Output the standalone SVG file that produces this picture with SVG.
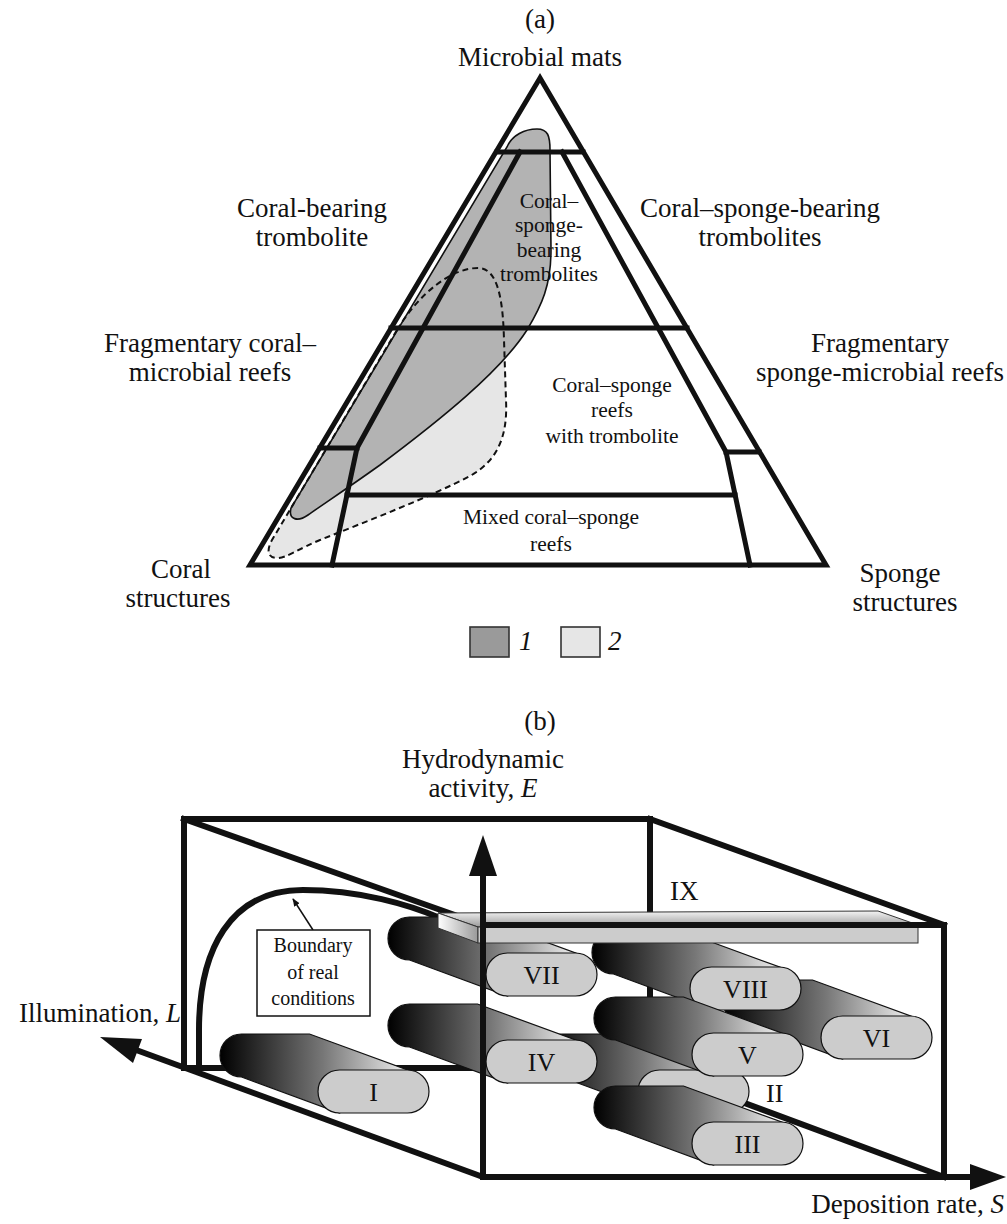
<svg xmlns="http://www.w3.org/2000/svg" width="1007" height="1224" viewBox="0 0 1007 1224">
<defs>
<style>
text{font-family:"Liberation Serif","Times New Roman",serif;fill:#111}
.big{font-size:27px}
.mid{font-size:21.5px}
.small{font-size:20px}
.num{font-size:26px}
.it{font-style:italic}
.edge{fill:none;stroke:#111;stroke-width:5;stroke-linejoin:miter;stroke-linecap:square}
.box{fill:none;stroke:#111;stroke-width:6;stroke-linecap:square;stroke-linejoin:miter}
.body{stroke:#111;stroke-width:1.2;fill:url(#cylgrad)}
.cap{fill:#cccccc;stroke:#111;stroke-width:1.2}
</style>
<linearGradient id="cylgrad" x1="0" y1="0" x2="1" y2="0">
<stop offset="0" stop-color="#000"/>
<stop offset="0.55" stop-color="#777"/>
<stop offset="1" stop-color="#eeeeee"/>
</linearGradient>
<linearGradient id="slabtop" x1="0" y1="0" x2="0" y2="1">
<stop offset="0" stop-color="#f4f4f4"/>
<stop offset="1" stop-color="#9a9a9a"/>
</linearGradient>
<linearGradient id="slabend" x1="0" y1="0" x2="1" y2="0">
<stop offset="0" stop-color="#fff"/>
<stop offset="1" stop-color="#999"/>
</linearGradient>
<marker id="smallarrow" viewBox="0 0 10 10" refX="9" refY="5" markerWidth="8" markerHeight="8" orient="auto" markerUnits="userSpaceOnUse">
<path d="M0,1 L10,5 L0,9 Z" fill="#111"/>
</marker>
</defs>

<!-- ===== Part (a) ===== -->
<g id="part-a">
<text class="big" x="540" y="28" text-anchor="middle">(a)</text>

<g id="region-shapes">
<path id="field2-fill" d="M397,330 C420,292 452,268 478,268 C498,268 503,300 504,340 L506,400 C508,440 495,462 470,476 C430,497 370,520 320,540 C300,548 287,558 277,558 C268,558 266,551 272,540 Z" fill="#e6e6e6" stroke="none"/>
<path id="field1" d="M507,147 C512,135 525,129 537,129 C548,129 550,136 550,150 L551,250 C551,285 542,305 527,330 C500,372 440,420 380,465 C345,490 322,505 308,515 C298,522 288,520 291,508 Z" fill="#b3b3b3" stroke="#111" stroke-width="1.6"/>
<path id="field2-outline" d="M397,330 C420,292 452,268 478,268 C498,268 503,300 504,340 L506,400 C508,440 495,462 470,476 C430,497 370,520 320,540 C300,548 287,558 277,558 C268,558 266,551 272,540 Z" fill="none" stroke="#111" stroke-width="2" stroke-dasharray="6 4"/>
</g>

<g id="triangle">
<path class="edge" d="M540,78 L250,565 L826,565 Z"/>
<path class="edge" d="M497,152 L583,152"/>
<path class="edge" d="M520,152 L357,448 L332,565"/>
<path class="edge" d="M562,152 L726,452 L750,565"/>
<path class="edge" d="M391,328 L687,328"/>
<path class="edge" d="M320,448 L357,448"/>
<path class="edge" d="M726,452 L759,452"/>
<path class="edge" d="M347,495 L735,495"/>
</g>

<g id="label-microbial-mats"><text class="big" x="540" y="66" text-anchor="middle">Microbial mats</text></g>
<g id="label-coral-bearing"><text class="big" text-anchor="middle"><tspan x="312" y="217">Coral-bearing</tspan><tspan x="312" y="246">trombolite</tspan></text></g>
<g id="label-coral-sponge-bearing"><text class="big" text-anchor="middle"><tspan x="760" y="217">Coral–sponge-bearing</tspan><tspan x="760" y="246">trombolites</tspan></text></g>
<g id="label-frag-coral"><text class="big" text-anchor="middle"><tspan x="210" y="352">Fragmentary coral–</tspan><tspan x="210" y="381">microbial reefs</tspan></text></g>
<g id="label-frag-sponge"><text class="big" text-anchor="middle"><tspan x="880" y="352">Fragmentary</tspan><tspan x="880" y="381">sponge-microbial reefs</tspan></text></g>
<g id="label-coral-structures"><text class="big" text-anchor="middle"><tspan x="181" y="578">Coral</tspan><tspan x="178" y="607">structures</tspan></text></g>
<g id="label-sponge-structures"><text class="big" text-anchor="middle"><tspan x="900" y="582">Sponge</tspan><tspan x="905" y="611">structures</tspan></text></g>
<g id="label-cs-bearing-inner"><text class="mid" text-anchor="middle"><tspan x="549" y="208">Coral–</tspan><tspan x="549" y="232">sponge-</tspan><tspan x="549" y="257">bearing</tspan><tspan x="549" y="281">trombolites</tspan></text></g>
<g id="label-cs-reefs"><text class="mid" text-anchor="middle"><tspan x="612" y="392">Coral–sponge</tspan><tspan x="612" y="417">reefs</tspan><tspan x="612" y="443">with trombolite</tspan></text></g>
<g id="label-mixed"><text class="mid" text-anchor="middle"><tspan x="551" y="524">Mixed coral–sponge</tspan><tspan x="551" y="551">reefs</tspan></text></g>

<g id="legend">
<rect x="470" y="627" width="39" height="30" fill="#9a9a9a" stroke="#333" stroke-width="1.6"/>
<text class="big it" x="519" y="650">1</text>
<rect x="561" y="627" width="39" height="30" fill="#e6e6e6" stroke="#333" stroke-width="1.6"/>
<text class="big it" x="608" y="650">2</text>
</g>
</g>

<!-- ===== Part (b) ===== -->
<g id="part-b">
<text class="big" x="540" y="730" text-anchor="middle">(b)</text>
<g id="label-E"><text class="big" text-anchor="middle"><tspan x="483" y="768">Hydrodynamic</tspan><tspan x="483" y="797">activity, <tspan class="it">E</tspan></tspan></text></g>
<g id="label-L"><text class="big" x="181" y="1022" text-anchor="end">Illumination, <tspan class="it">L</tspan></text></g>
<g id="label-S"><text class="big" x="1004" y="1213" text-anchor="end">Deposition rate, <tspan class="it">S</tspan></text></g>

<g id="connectors">
<path class="box" d="M184,819 L650,819 L650,1068"/>
<path class="box" d="M184,819 L184,1068 L650,1068"/>
<path class="box" d="M650,1068 L944,1177"/>
<path class="box" d="M184,819 L483,925"/>
<path class="box" d="M650,819 L944,925"/>
<path d="M199,1068 L199,1030 C199,950 230,890 303,890 C360,890 410,905 440,918" fill="none" stroke="#111" stroke-width="6"/>
<path d="M313,930 L293,899" fill="none" stroke="#111" stroke-width="1.5" marker-end="url(#smallarrow)"/>
<path d="M483,1177 L128,1047" fill="none" stroke="#111" stroke-width="6"/>
<path d="M100,1037 L142,1039 L133,1063 Z" fill="#111"/>
</g>

<g id="boundary-box">
<rect x="257" y="930" width="113" height="86" fill="#fff" stroke="#111" stroke-width="1.5"/>
<text class="small" text-anchor="middle"><tspan x="313" y="952">Boundary</tspan><tspan x="313" y="979">of real</tspan><tspan x="313" y="1005">conditions</tspan></text>
</g>

<g id="cyl-VII">
<path class="body" d="M409.5,917 L477.5,917 L575.5,953 L507.5,996 L409.5,960 A21.5,21.5 0 0 1 409.5,917 Z"/>
<rect class="cap" x="486" y="953" width="111" height="43" rx="21.5"/>
<text class="num" x="541.5" y="984" text-anchor="middle">VII</text>
</g>
<g id="cyl-VI">
<path class="body" d="M744.5,980 L812.5,980 L910.5,1016 L842.5,1059 L744.5,1023 A21.5,21.5 0 0 1 744.5,980 Z"/>
<rect class="cap" x="821" y="1016" width="111" height="43" rx="21.5"/>
<text class="num" x="876.5" y="1047" text-anchor="middle">VI</text>
</g>
<g id="cyl-VIII">
<path class="body" d="M613.5,931 L681.5,931 L779.5,967 L711.5,1010 L613.5,974 A21.5,21.5 0 0 1 613.5,931 Z"/>
<rect class="cap" x="690" y="967" width="111" height="43" rx="21.5"/>
<text class="num" x="745.5" y="998" text-anchor="middle">VIII</text>
</g>
<g id="cyl-II">
<path class="body" d="M561.5,1034 L629.5,1034 L727.5,1070 L659.5,1113 L561.5,1077 A21.5,21.5 0 0 1 561.5,1034 Z"/>
<rect class="cap" x="638" y="1070" width="111" height="43" rx="21.5"/>
<text class="num" x="766" y="1102">II</text>
</g>
<g id="cyl-V">
<path class="body" d="M615.5,997 L683.5,997 L781.5,1033 L713.5,1076 L615.5,1040 A21.5,21.5 0 0 1 615.5,997 Z"/>
<rect class="cap" x="692" y="1033" width="111" height="43" rx="21.5"/>
<text class="num" x="747.5" y="1064" text-anchor="middle">V</text>
</g>
<g id="cyl-IV">
<path class="body" d="M409.5,1004 L477.5,1004 L575.5,1040 L507.5,1083 L409.5,1047 A21.5,21.5 0 0 1 409.5,1004 Z"/>
<rect class="cap" x="486" y="1040" width="111" height="43" rx="21.5"/>
<text class="num" x="541.5" y="1071" text-anchor="middle">IV</text>
</g>
<g id="cyl-III">
<path class="body" d="M615.5,1086 L683.5,1086 L781.5,1122 L713.5,1165 L615.5,1129 A21.5,21.5 0 0 1 615.5,1086 Z"/>
<rect class="cap" x="692" y="1122" width="111" height="43" rx="21.5"/>
<text class="num" x="747.5" y="1153" text-anchor="middle">III</text>
</g>
<g id="cyl-I">
<path class="body" d="M241.5,1034 L309.5,1034 L407.5,1070 L339.5,1113 L241.5,1077 A21.5,21.5 0 0 1 241.5,1034 Z"/>
<rect class="cap" x="318" y="1070" width="111" height="43" rx="21.5"/>
<text class="num" x="373.5" y="1101" text-anchor="middle">I</text>
</g>

<g id="slab-IX">
<path d="M438,913 L878,911 L918,925 L478,927 Z" fill="url(#slabtop)" stroke="#333" stroke-width="1"/>
<path d="M438,913 L478,927 L478,943 L438,928 Z" fill="url(#slabend)" stroke="#333" stroke-width="1"/>
<rect x="478" y="927" width="440" height="16" fill="#cccccc" stroke="#333" stroke-width="1"/>
<text class="big" x="670" y="900">IX</text>
</g>

<g id="front-edges">
<path class="box" d="M483,925 L944,925 L944,1177"/>
<path d="M483,1177 L972,1177" fill="none" stroke="#111" stroke-width="6"/>
<path d="M1006,1177 L970,1164 L970,1190 Z" fill="#111"/>
<path d="M483,1180 L483,872" fill="none" stroke="#111" stroke-width="6"/>
<path d="M483,835 L469,876 L497,876 Z" fill="#111"/>
</g>
</g>
</svg>
